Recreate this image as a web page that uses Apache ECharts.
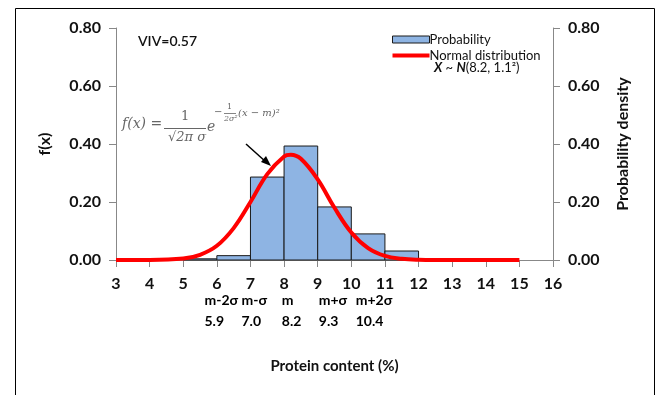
<!DOCTYPE html>
<html><head><meta charset="utf-8">
<script src="https://cdn.jsdelivr.net/npm/echarts@6/dist/echarts.min.js"></script>
<style>html,body{margin:0;padding:0;background:#fff;overflow:hidden}#c{width:661px;height:395px}</style>
</head><body><div id="c"></div>
<script>
// Histogram bins: [start, end, probability]
const binStarts = [5, 6, 7, 8, 9, 10, 11];
const binEnds   = [6, 7, 8, 9, 10, 11, 12];
const binProb   = [0.004, 0.015, 0.286, 0.393, 0.183, 0.090, 0.031];
// Normal distribution curve points
const curveX = [3, 4, 5, 5.5, 6, 6.5, 7, 7.5, 8, 8.2, 8.5, 9, 9.5, 10, 10.5, 11, 11.5, 12, 13, 14, 15];
const curveY = [0, 0.0001, 0.005, 0.018, 0.049, 0.110, 0.200, 0.296, 0.357, 0.363, 0.349, 0.278, 0.180, 0.095, 0.041, 0.014, 0.004, 0.001, 0, 0, 0];
const yTicks = [0, 0.2, 0.4, 0.6, 0.8];
const sigmaLabels = ['m-2σ', 'm-σ', 'm', 'm+σ', 'm+2σ'];
const sigmaValues = ['5.9', '7.0', '8.2', '9.3', '10.4'];
const sigmaPos = [5.9, 7.0, 8.2, 9.3, 10.4];

const FONT = 'Lato';
const chart = echarts.init(document.getElementById('c'), null, {renderer: 'canvas'});
const barData = binStarts.map((s, i) => [s, binEnds[i], binProb[i]]);
const curveData = curveX.map((x, i) => [x, curveY[i]]);

const axisLabel = {fontFamily: FONT, fontWeight: 'bold', fontSize: 16, color: '#111'};
const yAxisCommon = {
  type: 'value', min: 0, max: 0.8, interval: 0.2,
  axisLine: {show: true, lineStyle: {color: '#888', width: 1}},
  axisTick: {show: true, length: 7, lineStyle: {color: '#888'}},
  splitLine: {show: false},
  axisLabel: Object.assign({formatter: v => v.toFixed(2), margin: 15}, axisLabel),
  nameLocation: 'middle',
  nameTextStyle: {fontFamily: FONT, fontWeight: 'bold', fontSize: 16, color: '#111'}
};

chart.setOption({
  animation: false,
  grid: {left: 116, right: 108, top: 28, bottom: 135},
  xAxis: {
    type: 'value', min: 3, max: 16, interval: 1,
    axisLine: {show: true, onZero: false, lineStyle: {color: '#888'}},
    axisTick: {show: true, length: 7, lineStyle: {color: '#888'}},
    splitLine: {show: false},
    axisLabel: Object.assign({margin: 16}, axisLabel),
    name: 'Protein content (%)', nameLocation: 'middle', nameGap: 99,
    nameTextStyle: {fontFamily: FONT, fontWeight: 'bold', fontSize: 15, color: '#111'}
  },
  yAxis: [
    Object.assign({}, yAxisCommon, {position: 'left', name: 'f(x)', nameGap: 63, nameRotate: 90}),
    Object.assign({}, yAxisCommon, {position: 'right', name: 'Probability density', nameGap: 62, nameRotate: 90})
  ],
  legend: {
    orient: 'vertical', left: 387, top: 28, itemWidth: 37, itemHeight: 7, itemGap: 3,
    textStyle: {fontFamily: FONT, fontSize: 13, color: '#111', padding: [0, 0, 0, -5]},
    data: [
      {name: 'Probability', icon: 'rect', itemStyle: {color: '#8EB4E3', borderColor: '#1a1a1a', borderWidth: 1}},
      {name: 'Normal distribution', icon: 'path://M0,0L38,0L38,4L0,4Z', itemStyle: {color: '#FF0000', borderWidth: 0}}
    ]
  },
  series: [
    {
      name: 'Probability', type: 'custom',
      itemStyle: {color: '#8EB4E3', borderColor: '#1a1a1a', borderWidth: 1},
      renderItem: function (params, api) {
        const p0 = api.coord([api.value(0), api.value(2)]);
        const p1 = api.coord([api.value(1), 0]);
        return {
          type: 'rect',
          shape: {x: p0[0], y: p0[1], width: p1[0] - p0[0], height: p1[1] - p0[1]},
          style: {fill: '#8EB4E3', stroke: '#1a1a1a', lineWidth: 1}
        };
      },
      encode: {x: [0, 1], y: 2},
      data: barData, z: 2
    },
    {
      name: 'Normal distribution', type: 'line', smooth: 0.4, symbol: 'none',
      lineStyle: {color: '#FF0000', width: 4}, itemStyle: {color: '#FF0000'},
      data: curveData, z: 3
    },
    {
      type: 'scatter', symbolSize: 0, silent: true,
      itemStyle: {color: '#111', opacity: 1},
      data: sigmaPos.map((x, i) => ({value: [x, 0], name: i})),
      label: {
        show: true, position: 'bottom', distance: 30, align: 'left', offset: [-9, 0],
        formatter: p => sigmaLabels[p.data.name] + '\n' + sigmaValues[p.data.name],
        fontFamily: FONT, fontWeight: 'bold', fontSize: 14, color: '#000', lineHeight: 21
      }
    }
  ],
  graphic: [
    {type: 'line', shape: {x1: 15.5, y1: 8.5, x2: 654.5, y2: 8.5}, style: {stroke: '#000', lineWidth: 1}, silent: true},
    {type: 'line', shape: {x1: 15.5, y1: 8.5, x2: 15.5, y2: 395}, style: {stroke: '#000', lineWidth: 1}, silent: true},
    {type: 'line', shape: {x1: 654.5, y1: 8.5, x2: 654.5, y2: 395}, style: {stroke: '#000', lineWidth: 1}, silent: true},
    {type: 'text', left: 138, top: 34, style: {text: 'VIV=0.57', font: '600 14px Lato', fill: '#111'}},
    {type: 'text', left: 434, top: 61, style: {
      text: '{i|X} ~ {i|N}(8.2, 1.1²)', font: '13px Lato', fill: '#111',
      rich: {i: {fontStyle: 'italic', fontWeight: 'bold', fontFamily: FONT, fontSize: 13}}}},
    // formula
    {type: 'text', left: 122, top: 117, style: {text: 'f(x) =', font: 'italic 14px "DejaVu Serif"', fill: '#666'}},
    {type: 'text', left: 181, top: 110, style: {text: '1', font: '13px "DejaVu Serif"', fill: '#666'}},
    {type: 'line', shape: {x1: 164, y1: 128.5, x2: 206, y2: 128.5}, style: {stroke: '#666', lineWidth: 1}},
    {type: 'text', left: 168, top: 131, style: {text: '√2π σ', font: 'italic 13px "DejaVu Serif"', fill: '#666'}},
    {type: 'text', left: 207, top: 120, style: {text: 'e', font: 'italic 14px "DejaVu Serif"', fill: '#666'}},
    {type: 'text', left: 214, top: 107, style: {text: '−', font: '10px "DejaVu Serif"', fill: '#666'}},
    {type: 'text', left: 227, top: 103, style: {text: '1', font: '8px "DejaVu Serif"', fill: '#666'}},
    {type: 'line', shape: {x1: 224, y1: 113.5, x2: 236, y2: 113.5}, style: {stroke: '#666', lineWidth: 0.8}},
    {type: 'text', left: 224, top: 115, style: {text: '2σ²', font: 'italic 8px "DejaVu Serif"', fill: '#666'}},
    {type: 'text', left: 238, top: 108, style: {text: '(x − m)²', font: 'italic 10px "DejaVu Serif"', fill: '#666'}},
    // arrow
    {type: 'line', shape: {x1: 246, y1: 144, x2: 266, y2: 162}, style: {stroke: '#000', lineWidth: 1.5}},
    {type: 'polygon', shape: {points: [[271, 166], [261, 162], [266, 156]]}, style: {fill: '#000'}}
  ]
});
</script></body></html>
